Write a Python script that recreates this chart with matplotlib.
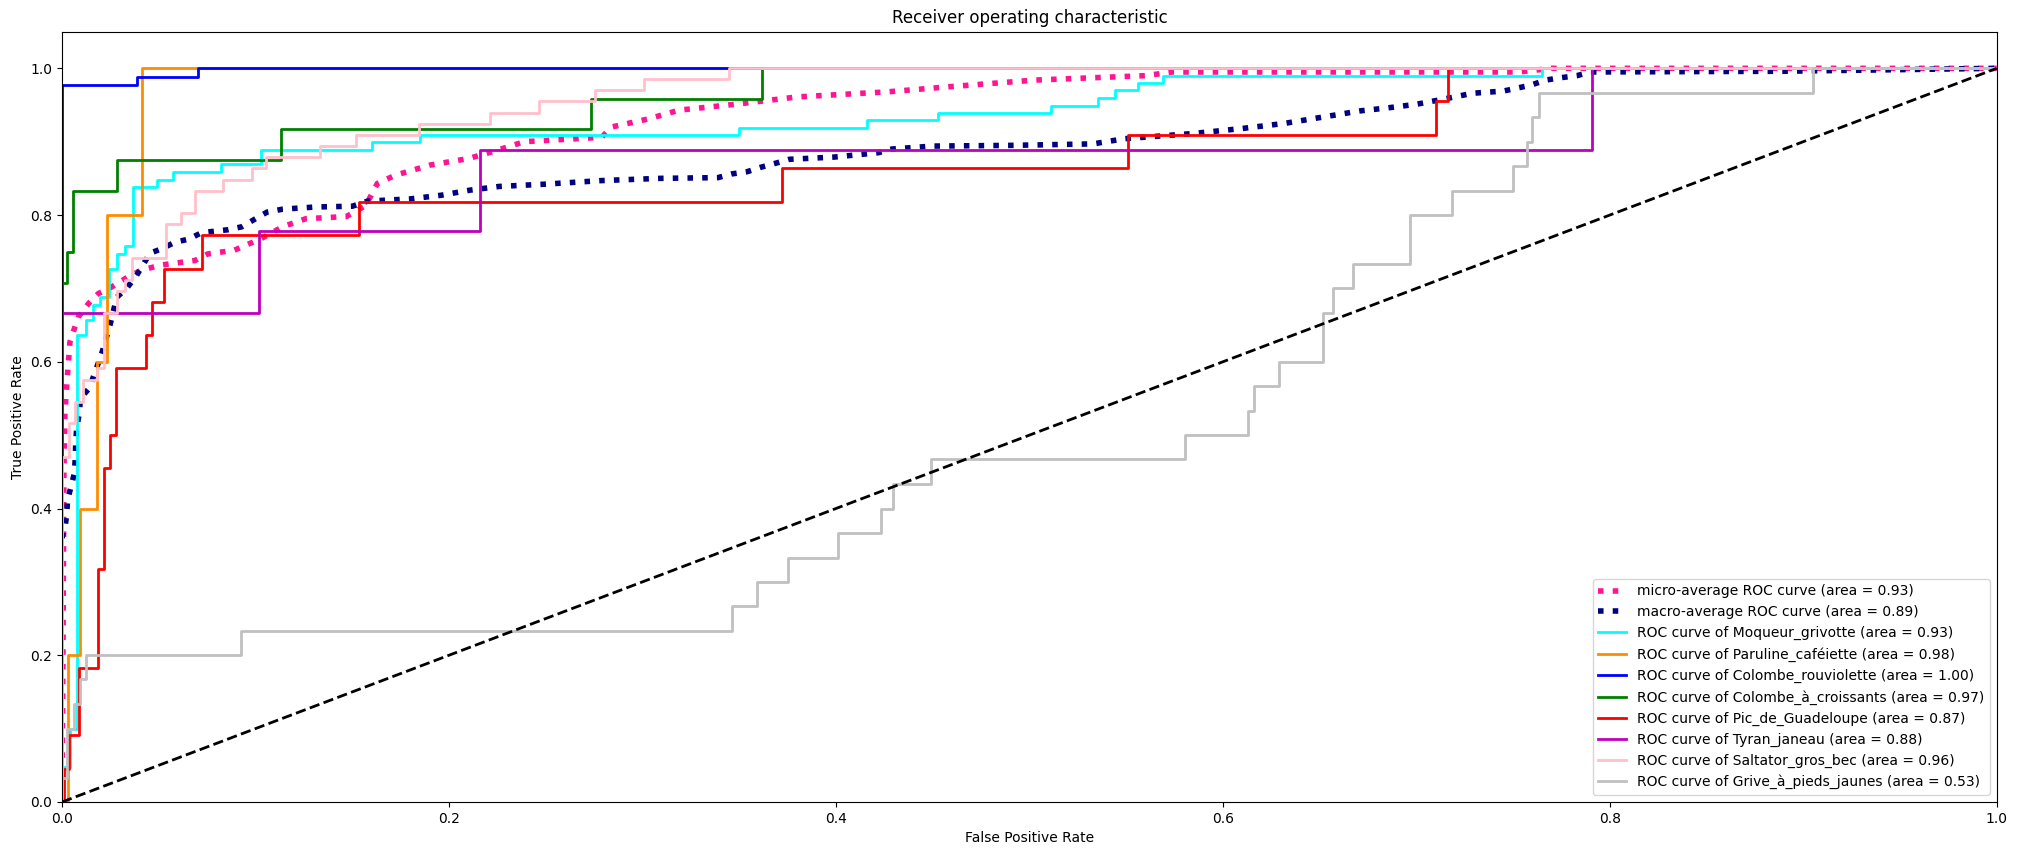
import matplotlib.pyplot as plt

# Class names and their AUC values
classes = ['Moqueur_grivotte', 'Paruline_caféiette', 'Colombe_rouviolette',
           'Colombe_à_croissants', 'Pic_de_Guadeloupe', 'Tyran_janeau',
           'Saltator_gros_bec', 'Grive_à_pieds_jaunes']
aucs = [0.93, 0.98, 1.00, 0.97, 0.87, 0.88, 0.96, 0.53]
micro_auc = 0.93
macro_auc = 0.89

# ROC corner points (each point starts a horizontal step)
fpr_moqueur = [0, 0, 0.0041, 0.0079, 0.0122, 0.0162, 0.0196, 0.0245, 0.0286, 0.0326,
               0.0369, 0.0489, 0.0575, 0.082, 0.103, 0.160, 0.185, 0.350, 0.416, 0.453,
               0.511, 0.5355, 0.544, 0.556, 0.569, 0.765, 1.0]
tpr_moqueur = [0, 0.048, 0.10, 0.636, 0.657, 0.677, 0.688, 0.727, 0.747, 0.758,
               0.838, 0.848, 0.859, 0.869, 0.889, 0.899, 0.909, 0.919, 0.929, 0.939,
               0.949, 0.960, 0.970, 0.980, 0.990, 1.0, 1.0]

fpr_paruline = [0, 0.0029, 0.0093, 0.0179, 0.0234, 0.0415, 1.0]
tpr_paruline = [0, 0.2, 0.4, 0.6, 0.8, 1.0, 1.0]

fpr_rouviolette = [0, 0, 0.039, 0.0705, 1.0]
tpr_rouviolette = [0, 0.977, 0.988, 1.0, 1.0]

fpr_croissants = [0, 0, 0.0027, 0.0055, 0.0283, 0.1132, 0.2734, 0.362, 1.0]
tpr_croissants = [0, 0.708, 0.75, 0.833, 0.875, 0.917, 0.958, 1.0, 1.0]

fpr_pic = [0, 0.0012, 0.0036, 0.0089, 0.0188, 0.0219, 0.0248, 0.0279, 0.0434,
           0.0463, 0.0527, 0.0722, 0.1534, 0.372, 0.551, 0.710, 0.7165, 1.0]
tpr_pic = [0, 0.045, 0.091, 0.182, 0.318, 0.455, 0.5, 0.591, 0.636,
           0.682, 0.727, 0.773, 0.818, 0.864, 0.909, 0.955, 1.0, 1.0]

fpr_tyran = [0, 0, 0.102, 0.2163, 0.7907, 1.0]
tpr_tyran = [0, 0.667, 0.778, 0.889, 1.0, 1.0]

fpr_saltator = [0, 0, 0.0035, 0.0067, 0.0107, 0.0179, 0.0219, 0.0286, 0.0326, 0.036,
                0.054, 0.0615, 0.0687, 0.0834, 0.098, 0.1053, 0.1336, 0.152, 0.1844, 0.221,
                0.2468, 0.2755, 0.301, 0.3447, 1.0]
tpr_saltator = [0, 0.47, 0.516, 0.545, 0.575, 0.591, 0.667, 0.697, 0.712, 0.742,
                0.788, 0.803, 0.833, 0.848, 0.864, 0.879, 0.894, 0.909, 0.924, 0.939,
                0.955, 0.970, 0.985, 1.0, 1.0]

fpr_grive = [0, 0, 0.0024, 0.0062, 0.0093, 0.0124, 0.0923, 0.3463, 0.359, 0.3754,
             0.401, 0.4234, 0.4296, 0.449, 0.5805, 0.6128, 0.6163, 0.629, 0.6516, 0.657,
             0.6675, 0.6966, 0.7185, 0.750, 0.757, 0.760, 0.7635, 0.9048, 1.0]
tpr_grive = [0, 0.033, 0.1, 0.133, 0.167, 0.2, 0.233, 0.267, 0.3, 0.333,
             0.367, 0.4, 0.433, 0.467, 0.5, 0.533, 0.567, 0.6, 0.667, 0.7,
             0.733, 0.8, 0.833, 0.867, 0.9, 0.933, 0.967, 1.0, 1.0]

# Averaged curves (plain polylines)
fpr_micro = [0, 0.0005, 0.001, 0.0015, 0.0025, 0.0041, 0.0084, 0.0136, 0.0188, 0.0257,
             0.0343, 0.0412, 0.0515, 0.0687, 0.0753, 0.089, 0.103, 0.114, 0.126, 0.147,
             0.157, 0.163, 0.172, 0.19, 0.21, 0.222, 0.239, 0.279, 0.284, 0.303,
             0.319, 0.348, 0.38, 0.427, 0.459, 0.503, 0.56, 0.574, 0.753, 0.77, 1.0]
tpr_micro = [0, 0.2, 0.45, 0.53, 0.57, 0.627, 0.661, 0.679, 0.693, 0.702,
             0.716, 0.725, 0.732, 0.738, 0.747, 0.752, 0.768, 0.784, 0.795, 0.798,
             0.813, 0.843, 0.854, 0.868, 0.877, 0.886, 0.90, 0.906, 0.92, 0.931,
             0.943, 0.951, 0.961, 0.968, 0.975, 0.984, 0.99, 0.995, 0.995, 1.0, 1.0]

fpr_macro = [0, 0.0016, 0.0024, 0.0029, 0.0047, 0.0064, 0.0069, 0.0071, 0.0076, 0.009,
             0.0095, 0.0141, 0.0205, 0.0248, 0.0283, 0.0334, 0.0386, 0.0455, 0.0515, 0.0584,
             0.0653, 0.0722, 0.0859, 0.0929, 0.0994, 0.106, 0.114, 0.131, 0.150, 0.158,
             0.180, 0.196, 0.211, 0.226, 0.249, 0.279, 0.309, 0.339, 0.346, 0.354,
             0.361, 0.368, 0.376, 0.399, 0.422, 0.429, 0.45, 0.491, 0.533, 0.549,
             0.584, 0.61, 0.632, 0.655, 0.671, 0.685, 0.70, 0.716, 0.729, 0.745,
             0.759, 0.767, 0.774, 0.783, 0.79, 0.89, 1.0]
tpr_macro = [0.36, 0.375, 0.391, 0.412, 0.43, 0.448, 0.47, 0.49, 0.51, 0.53,
             0.55, 0.564, 0.611, 0.65, 0.688, 0.70, 0.718, 0.748, 0.754, 0.763,
             0.767, 0.776, 0.78, 0.784, 0.794, 0.804, 0.808, 0.811, 0.812, 0.819,
             0.822, 0.827, 0.834, 0.839, 0.842, 0.847, 0.850, 0.851, 0.856, 0.859,
             0.865, 0.870, 0.876, 0.879, 0.885, 0.89, 0.894, 0.895, 0.897, 0.904,
             0.911, 0.918, 0.925, 0.935, 0.942, 0.946, 0.951, 0.959, 0.966, 0.969,
             0.977, 0.984, 0.987, 0.99, 0.995, 0.996, 1.0]

fprs = [fpr_moqueur, fpr_paruline, fpr_rouviolette, fpr_croissants,
        fpr_pic, fpr_tyran, fpr_saltator, fpr_grive]
tprs = [tpr_moqueur, tpr_paruline, tpr_rouviolette, tpr_croissants,
        tpr_pic, tpr_tyran, tpr_saltator, tpr_grive]
colors = ['aqua', 'darkorange', 'blue', 'green', 'red', 'm', 'pink', 'silver']

lw = 2
fig = plt.figure(figsize=(20.19, 8.55), dpi=100)
plt.subplots_adjust(left=0.0307, right=0.989, bottom=0.062, top=0.963)

plt.plot(fpr_micro, tpr_micro,
         label='micro-average ROC curve (area = {0:0.2f})'.format(micro_auc),
         color='deeppink', linestyle=':', linewidth=4)
plt.plot(fpr_macro, tpr_macro,
         label='macro-average ROC curve (area = {0:0.2f})'.format(macro_auc),
         color='navy', linestyle=':', linewidth=4)

for name, auc_val, fpr, tpr, color in zip(classes, aucs, fprs, tprs, colors):
    plt.plot(fpr, tpr, color=color, lw=lw, drawstyle='steps-post',
             label='ROC curve of {0} (area = {1:0.2f})'.format(name, auc_val))

plt.plot([0, 1], [0, 1], 'k--', lw=lw)
plt.xlim([0.0, 1.0])
plt.ylim([0.0, 1.05])
plt.xlabel('False Positive Rate')
plt.ylabel('True Positive Rate')
plt.title('Receiver operating characteristic')
plt.legend(loc="lower right")
plt.savefig('out.png', dpi=100)
